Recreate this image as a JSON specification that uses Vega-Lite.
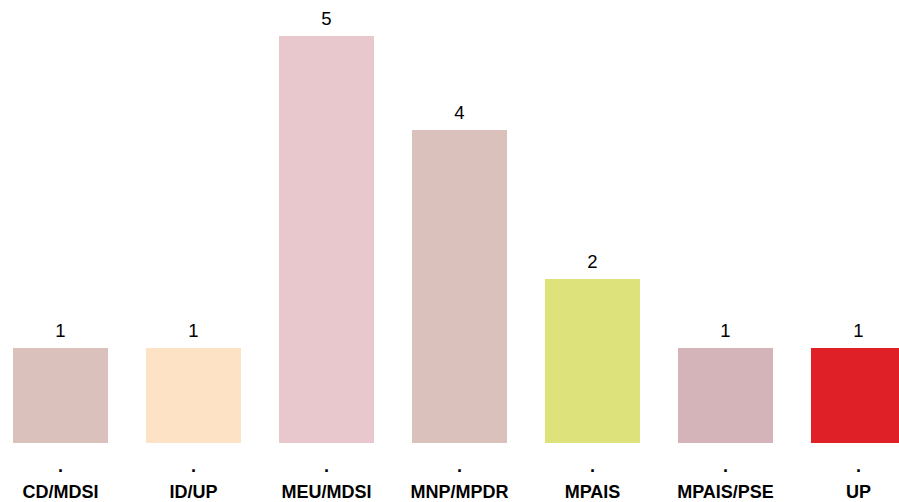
{
  "$schema": "https://vega.github.io/schema/vega-lite/v6.json",
  "autosize": "none",
  "width": 893,
  "height": 407,
  "padding": {"left": 13, "top": 36, "right": 0, "bottom": 59},
  "background": "white",
  "config": {"view": {"stroke": null}, "font": "Liberation Sans"},
  "data": {"values": [
    {"party": "CD/MDSI", "seats": 1, "height": 1.167, "color": "#dac1bc"},
    {"party": "ID/UP", "seats": 1, "height": 1.167, "color": "#fde2c5"},
    {"party": "MEU/MDSI", "seats": 5, "height": 5.0, "color": "#e8c8cc"},
    {"party": "MNP/MPDR", "seats": 4, "height": 3.845, "color": "#dac1bc"},
    {"party": "MPAIS", "seats": 2, "height": 2.015, "color": "#dde37a"},
    {"party": "MPAIS/PSE", "seats": 1, "height": 1.167, "color": "#d4b4b8"},
    {"party": "UP", "seats": 1, "height": 1.167, "color": "#df2027"}
  ]},
  "encoding": {
    "x": {
      "field": "party", "type": "nominal", "sort": null,
      "scale": {"paddingInner": 0.2857, "paddingOuter": 0},
      "axis": {
        "title": null, "domain": false, "ticks": false,
        "labelExpr": "['.', datum.label]",
        "labelFont": "Liberation Sans", "labelFontSize": 18, "labelFontWeight": "bold",
        "labelColor": "#000", "labelLineHeight": 26, "labelPadding": 14, "labelAngle": 0
      }
    },
    "y": {
      "field": "height", "type": "quantitative",
      "scale": {"domain": [0, 5], "nice": false},
      "axis": null
    }
  },
  "layer": [
    {"mark": {"type": "bar"}, "encoding": {"color": {"field": "color", "type": "nominal", "scale": null}}},
    {"mark": {"type": "text", "baseline": "alphabetic", "dy": -11, "fontSize": 18.5, "color": "#000"},
     "encoding": {"text": {"field": "seats", "type": "quantitative"}}}
  ]
}
